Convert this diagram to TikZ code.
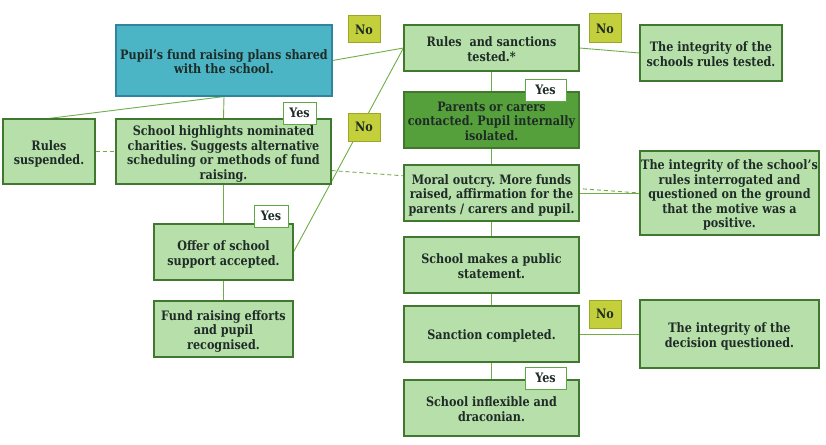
\documentclass[tikz,border=0pt]{standalone}
\usepackage{fontspec}
\setmainfont{DejaVu Serif}
\newfontfamily\boxfont{DejaVu Serif}[FakeStretch=0.86]
\frenchspacing
\newcommand\boxtext[1]{\begin{tabular}{@{}c@{}}\rule{0pt}{16pt}#1\end{tabular}}
\definecolor{lgfill}{HTML}{B7DFA9}
\definecolor{lgborder}{HTML}{41782F}
\definecolor{dgfill}{HTML}{55A03B}
\definecolor{tealfill}{HTML}{4BB5C5}
\definecolor{tealborder}{HTML}{31849B}
\definecolor{nofill}{HTML}{C3CF3B}
\definecolor{noborder}{HTML}{9AA52A}
\definecolor{yesborder}{HTML}{5EA843}
\definecolor{linegreen}{HTML}{70AD47}
\definecolor{txt}{HTML}{1E2B27}
\pgfdeclarelayer{background}
\pgfsetlayers{background,main}
\begin{document}
\begin{tikzpicture}[x=1pt,y=-1pt,
  box/.style={draw=lgborder, line width=1.1pt, fill=lgfill, text=txt,
    font=\boxfont\fontsize{13}{14.5}\selectfont\bfseries, inner sep=0pt},
  darkbox/.style={box, fill=dgfill},
  tealbox/.style={box, fill=tealfill, draw=tealborder},
  nolabel/.style={draw=noborder, line width=1pt, fill=nofill, text=txt,
    font=\boxfont\fontsize{13}{14}\selectfont\bfseries, inner sep=0pt},
  yeslabel/.style={draw=yesborder, line width=1pt, fill=white, text=txt,
    font=\boxfont\fontsize{13}{14}\selectfont\bfseries, inner sep=0pt},
  conn/.style={draw=linegreen, line width=0.9pt},
  dconn/.style={draw=linegreen, line width=0.9pt, dash pattern=on 4pt off 3pt}
]
\useasboundingbox (0,0) rectangle (826,444);

% nodes
\node[tealbox, minimum width=216pt, minimum height=71pt] (pupil) at (224,60.5)
  {\boxtext{Pupil’s fund raising plans shared\\with the school.}};
\node[box, minimum width=92pt, minimum height=65pt] (susp) at (49,151.5)
  {\boxtext{Rules\\suspended.}};
\node[box, minimum width=215pt, minimum height=65pt] (high) at (223.5,151.5)
  {\boxtext{School highlights nominated\\charities. Suggests alternative\\scheduling or methods of fund\\raising.}};
\node[box, minimum width=139pt, minimum height=56pt] (offer) at (223.5,252)
  {\boxtext{Offer of school\\support accepted.}};
\node[box, minimum width=139pt, minimum height=56pt] (fund) at (223.5,329)
  {\boxtext{Fund raising efforts\\and pupil\\recognised.}};
\node[box, minimum width=175pt, minimum height=46pt] (rules) at (491.5,48)
  {\boxtext{Rules\ \ and sanctions\\tested.*}};
\node[darkbox, minimum width=175pt, minimum height=56pt] (parents) at (491.5,120)
  {\boxtext{Parents or carers\\contacted. Pupil internally\\isolated.}};
\node[box, minimum width=175pt, minimum height=56pt] (moral) at (491.5,193)
  {\boxtext{Moral outcry. More funds\\raised, affirmation for the\\parents / carers and pupil.}};
\node[box, minimum width=175pt, minimum height=56pt] (public) at (491.5,265)
  {\boxtext{School makes a public\\statement.}};
\node[box, minimum width=175pt, minimum height=56pt] (sanction) at (491.5,334)
  {\boxtext{Sanction completed.}};
\node[box, minimum width=175pt, minimum height=56pt] (inflex) at (491.5,408)
  {\boxtext{School inflexible and\\draconian.}};
\node[box, minimum width=142pt, minimum height=56pt] (inttest) at (711,53)
  {\boxtext{The integrity of the\\schools rules tested.}};
\node[box, minimum width=179pt, minimum height=84pt] (intint) at (729.5,193)
  {\boxtext{The integrity of the school’s\\rules interrogated and\\questioned on the ground\\that the motive was a\\positive.}};
\node[box, minimum width=179pt, minimum height=68pt] (intdec) at (729.5,334)
  {\boxtext{The integrity of the\\decision questioned.}};

% labels
\node[nolabel, minimum width=32pt, minimum height=27pt] (no1) at (364,29.5) {No};
\node[nolabel, minimum width=32pt, minimum height=28pt] (no2) at (364,127) {No};
\node[nolabel, minimum width=32pt, minimum height=29pt] (no3) at (605,28.5) {No};
\node[nolabel, minimum width=32pt, minimum height=28pt] (no4) at (605,314) {No};
\node[yeslabel, minimum width=33pt, minimum height=22pt] (yes1) at (299.5,113) {Yes};
\node[yeslabel, minimum width=34pt, minimum height=22pt] (yes2) at (271,216) {Yes};
\node[yeslabel, minimum width=41pt, minimum height=22pt] (yes3) at (545.5,90) {Yes};
\node[yeslabel, minimum width=41pt, minimum height=22pt] (yes4) at (545.5,378) {Yes};

% connectors (behind boxes)
\begin{pgfonlayer}{background}
\draw[conn] (pupil.east) -- (rules.west);
\draw[conn] (offer.east) -- (rules.west);
\draw[conn] (pupil.south) -- (susp.north);
\draw[conn] (pupil.south) -- (high.north);
\draw[dconn] (susp.east) -- (high.west);
\draw[conn] (high.south) -- (offer.north);
\draw[conn] (offer.south) -- (fund.north);
\draw[conn] (rules.south) -- (parents.north);
\draw[conn] (parents.south) -- (moral.north);
\draw[conn] (moral.south) -- (public.north);
\draw[conn] (public.south) -- (sanction.north);
\draw[conn] (sanction.south) -- (inflex.north);
\draw[conn] (rules.east) -- (inttest.west);
\draw[conn] (moral.east) -- (intint.west);
\draw[conn] (sanction.east) -- (intdec.west);
\draw[dconn] (high.-10) -- (intint.west);
\end{pgfonlayer}
\end{tikzpicture}
\end{document}
